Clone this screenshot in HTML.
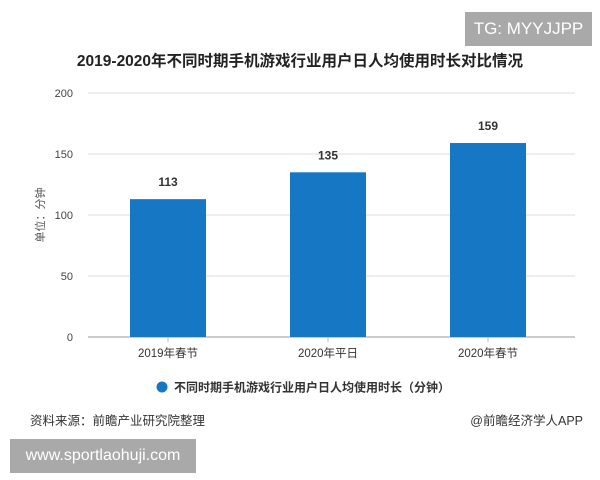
<!DOCTYPE html>
<html><head><meta charset="utf-8"><style>
body{margin:0;width:600px;height:480px;background:#fff;position:relative;overflow:hidden;font-family:"Liberation Sans","Noto Sans CJK SC",sans-serif;}
.abs{position:absolute}
</style></head><body>
<div class="abs" style="left:465px;top:12px;width:127px;height:34px;background:#a9a9a9;color:#fff;font-size:17px;line-height:34px;text-align:center">TG: MYYJJPP</div>
<div class="abs" style="left:0;width:600px;top:49px;text-align:center;font-size:15.5px;font-weight:bold;color:#222">2019-2020年不同时期手机游戏行业用户日人均使用时长对比情况</div>
<svg class="abs" style="left:0;top:0" width="600" height="480" id="chart"></svg>
<div class="abs" style="left:30px;top:410px;font-size:12.5px;color:#333">资料来源：前瞻产业研究院整理</div>
<div class="abs" style="right:17px;top:410px;font-size:12.5px;color:#333">@前瞻经济学人APP</div>
<div class="abs" style="left:10px;top:439px;width:186px;height:34px;background:#a9a9a9;color:#fff;font-size:16px;line-height:34px;text-align:center">www.sportlaohuji.com</div>
<script>
const categories=["2019年春节","2020年平日","2020年春节"];
const values=[113,135,159];
const ticks=[0,50,100,150,200];
const svg=document.getElementById('chart');const NS='http://www.w3.org/2000/svg';
const x0=88,x1=568,yTop=93,yBot=337,max=200;
const y=v=>yBot-(v/max)*(yBot-yTop);
const band=(x1-x0)/categories.length;
function mk(t,a){const e=document.createElementNS(NS,t);for(const k in a)e.setAttribute(k,a[k]);svg.appendChild(e);return e;}
ticks.forEach(t=>{
 const g=mk('line',{x1:x0,x2:575,y1:y(t),y2:y(t),stroke:t===0?'#bbb':'#ddd','stroke-width':t===0?1.5:1});
 
 const l=mk('text',{x:73,y:y(t)+4,'text-anchor':'end','font-size':11,fill:'#444'});l.textContent=t;
 
});
const yt=mk('text',{x:44,y:215,'text-anchor':'middle','font-size':11,fill:'#555',transform:'rotate(-90 44 215)'});yt.textContent='单位：分钟';

categories.forEach((c,i)=>{
 const cx=x0+band*(i+0.5);
 const r=mk('rect',{x:cx-38,y:y(values[i]),width:76,height:yBot-y(values[i]),fill:'#1677c4'});
 
 const v=mk('text',{x:cx,y:y(values[i])-13,'text-anchor':'middle','font-size':12,'font-weight':'bold',fill:'#333'});v.textContent=values[i];
 
 const tk=mk('line',{x1:cx,x2:cx,y1:yBot,y2:yBot+5,stroke:'#bbb'});
 
 const l=mk('text',{x:cx,y:yBot+20,'text-anchor':'middle','font-size':11.5,fill:'#333'});l.textContent=c;
 
});
const lc=mk('circle',{cx:162,cy:387,r:5.5,fill:'#1677c4'});

const lt=mk('text',{x:174,y:391.5,'font-size':12,'font-weight':'bold',fill:'#333'});lt.textContent='不同时期手机游戏行业用户日人均使用时长（分钟）';

</script>
</body></html>
